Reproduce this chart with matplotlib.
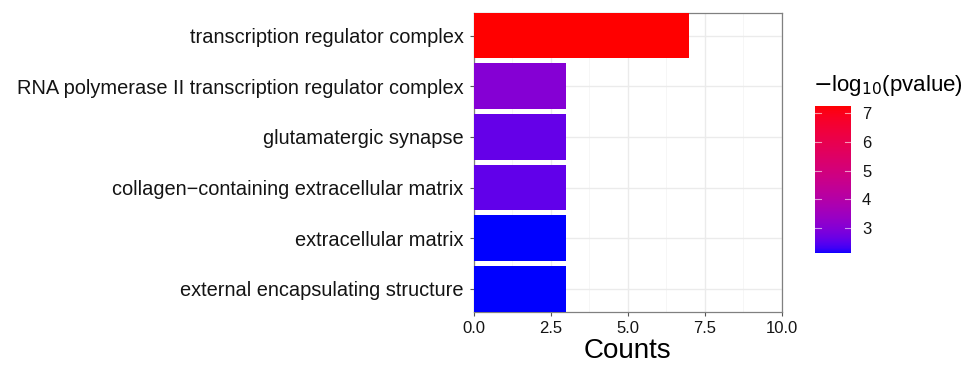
import numpy as np
import matplotlib
matplotlib.use("Agg")
import matplotlib.pyplot as plt
from matplotlib.colors import ListedColormap, Normalize
from matplotlib.colorbar import ColorbarBase

plt.rcParams['font.family'] = ['Liberation Sans', 'DejaVu Sans']

terms = [
    "transcription regulator complex",
    "RNA polymerase II transcription regulator complex",
    "glutamatergic synapse",
    "collagen\u2212containing extracellular matrix",
    "extracellular matrix",
    "external encapsulating structure",
]
counts = [7, 3, 3, 3, 3, 3]
neg_log10_p = [7.26, 3.05, 2.62, 2.58, 2.15, 2.13]


# blue -> red gradient interpolated in CIE Lab space
def srgb_to_lab(rgb):
    rgb = np.asarray(rgb, float)
    lin = np.where(rgb <= 0.04045, rgb / 12.92, ((rgb + 0.055) / 1.055) ** 2.4)
    M = np.array([[0.4124, 0.3576, 0.1805],
                  [0.2126, 0.7152, 0.0722],
                  [0.0193, 0.1192, 0.9505]])
    xyz = lin @ M.T / np.array([0.95047, 1.0, 1.08883])
    f = np.where(xyz > 0.008856, np.cbrt(xyz), 7.787 * xyz + 16 / 116)
    L = 116 * f[..., 1] - 16
    a = 500 * (f[..., 0] - f[..., 1])
    b = 200 * (f[..., 1] - f[..., 2])
    return np.stack([L, a, b], -1)


def lab_to_srgb(lab):
    L, a, b = lab[..., 0], lab[..., 1], lab[..., 2]
    fy = (L + 16) / 116
    fx = fy + a / 500
    fz = fy - b / 200
    f = np.stack([fx, fy, fz], -1)
    xyz = np.where(f ** 3 > 0.008856, f ** 3, (f - 16 / 116) / 7.787)
    xyz = xyz * np.array([0.95047, 1.0, 1.08883])
    Minv = np.array([[3.2406, -1.5372, -0.4986],
                     [-0.9689, 1.8758, 0.0415],
                     [0.0557, -0.2040, 1.0570]])
    lin = xyz @ Minv.T
    lin = np.clip(lin, 0, 1)
    rgb = np.where(lin <= 0.0031308, 12.92 * lin, 1.055 * lin ** (1 / 2.4) - 0.055)
    return np.clip(rgb, 0, 1)


lab_lo = srgb_to_lab([0, 0, 1])
lab_hi = srgb_to_lab([1, 0, 0])
t = np.linspace(0, 1, 256)[:, None]
cmap = ListedColormap(lab_to_srgb(lab_lo + t * (lab_hi - lab_lo)))
vmin, vmax = min(neg_log10_p), max(neg_log10_p)
norm = Normalize(vmin, vmax)

W, H = 972, 367
fig = plt.figure(figsize=(W / 100, H / 100), dpi=100)
ax_bottom, ax_top = 311.7, 12.7
ax = fig.add_axes([474 / W, 1 - ax_bottom / H, (781.7 - 474) / W, (ax_bottom - ax_top) / H])

y = np.arange(len(terms))[::-1] + 1
ax.barh(y, counts, height=0.9, color=cmap(norm(neg_log10_p)), zorder=3)

ax.set_xlim(0, 10)
ax.set_ylim(0.55, len(terms) + 0.45)
ax.set_xticks([0, 2.5, 5, 7.5, 10])
ax.set_xticklabels(["0.0", "2.5", "5.0", "7.5", "10.0"])
ax.set_xticks([1.25, 3.75, 6.25, 8.75], minor=True)
ax.set_yticks(y)
ax.set_yticklabels(terms)

ax.grid(True, which="major", color="#EBEBEB", lw=1.0, zorder=0)
ax.grid(True, which="minor", axis="x", color="#F5F5F5", lw=0.6, zorder=0)
for s in ax.spines.values():
    s.set_color("#808080")
    s.set_linewidth(0.9)
ax.tick_params(which="major", length=3, color="#555555", width=0.8, labelcolor="#141414")
ax.tick_params(axis="y", labelsize=14.4, pad=4.5)
ax.tick_params(axis="x", labelsize=12, pad=3.5)
ax.tick_params(which="minor", length=0)
ax.set_xlabel("Counts", fontsize=20, color="black")
ax.xaxis.label.set_va("center")
ax.xaxis.set_label_coords(0.5, -(351 - ax_bottom) / (ax_bottom - ax_top))

# colour bar legend
cax = fig.add_axes([815 / W, 1 - 253.3 / H, 36 / W, (253.3 - 105.7) / H])
cb = ColorbarBase(cax, cmap=cmap, norm=norm, orientation="vertical")
cb.outline.set_visible(False)
cb.set_ticks([3, 4, 5, 6, 7])
cax.tick_params(length=0, labelsize=12, labelcolor="#141414", pad=8)
for v in [3, 4, 5, 6, 7]:
    cax.plot([0, 0.18], [v, v], color="white", lw=0.8, alpha=0.6,
             transform=cax.get_yaxis_transform())
    cax.plot([0.82, 1], [v, v], color="white", lw=0.8, alpha=0.6,
             transform=cax.get_yaxis_transform())
fig.text(813 / W, 1 - 86 / H, r"$-$log$_{10}$(pvalue)", fontsize=16, va="center", ha="left",
         color="black")

fig.savefig("out.png", dpi=100, facecolor="white")
